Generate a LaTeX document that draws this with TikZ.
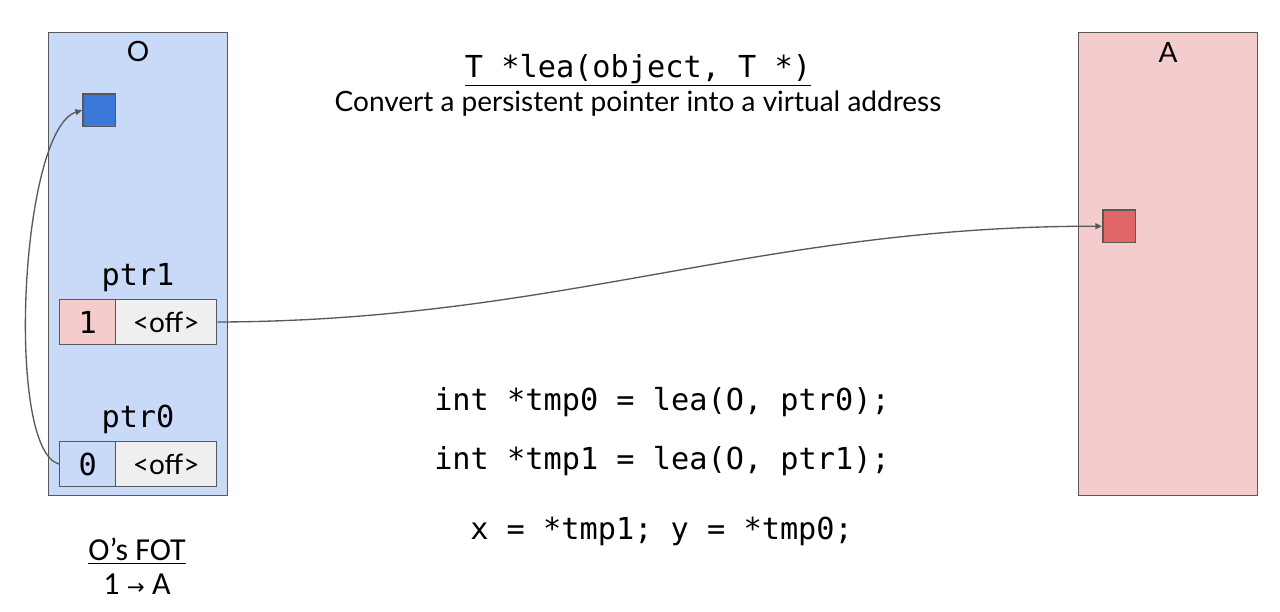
\documentclass[tikz,border=0pt]{standalone}
\usepackage{fontspec}
\setmainfont{Lato}
\setmonofont{DejaVu Sans Mono}
\newfontfamily\fotfont{Carlito}
\newfontfamily\symfont{DejaVu Sans}
\usetikzlibrary{arrows.meta}
\definecolor{edgegray}{HTML}{595959}
\definecolor{oblue}{HTML}{C9DAF8}
\definecolor{apink}{HTML}{F4CCCC}
\definecolor{sqblue}{HTML}{3C78D8}
\definecolor{sqred}{HTML}{E06666}
\definecolor{cellgray}{HTML}{EFEFEF}
\tikzset{
  region/.style={draw=edgegray, line width=1pt, anchor=north west, inner sep=0pt, minimum width=134.25pt, minimum height=347.25pt},
  cell/.style={draw=edgegray, line width=1pt, anchor=north west, inner sep=0pt, minimum height=33.5pt},
  sq/.style={draw=edgegray, line width=1.3pt, anchor=north west, inner sep=0pt, minimum size=24.5pt},
  monolbl/.style={font=\ttfamily\fontsize{22.7}{26}\selectfont, inner sep=0pt},
  sanslbl/.style={font=\fontsize{21}{25}\selectfont, inner sep=0pt},
  link/.style={draw=edgegray, line width=1pt, -{Triangle[length=5pt,width=4.5pt]}},
}
\begin{document}
\begin{tikzpicture}[x=0.75pt,y=-0.75pt]
\useasboundingbox (0,0) rectangle (1280,611);
% regions
\node[region, fill=oblue] (O) at (48,32) {};
\node[region, fill=apink] (A) at (1078,32) {};
\node[sanslbl] (Olbl) at (138,51) {O};
\node[sanslbl] (Albl) at (1168,52) {A};
% squares
\node[sq, fill=sqblue] (bsq) at (82,93) {};
\node[sq, fill=sqred] (rsq) at (1102,209) {};
% ptr1
\node[monolbl] (p1lbl) at (138,278) {ptr1};
\node[cell, fill=apink, minimum width=42pt] (p1seg) at (59,299) {};
\node[cell, fill=cellgray, minimum width=75.75pt] (p1off) at (115,299) {};
\node[monolbl] at (p1seg.center) {1};
\node[sanslbl] at (p1off.center) {<off>};
% ptr0
\node[monolbl] (p0lbl) at (138,419) {ptr0};
\node[cell, fill=oblue, minimum width=42pt] (p0seg) at (59,441) {};
\node[cell, fill=cellgray, minimum width=75.75pt] (p0off) at (115,441) {};
\node[monolbl] at (p0seg.center) {0};
\node[sanslbl] at (p0off.center) {<off>};
% connectors
\draw[link] (p1off.east) .. controls (560,321) and (760,226) .. (rsq.west);
\draw[link] (p0seg.west) .. controls (5,450) and (20,130) .. (bsq.west);
% title
\node[monolbl] (title) at (638,70) {\underline{T *lea(object, T *)}};
\node[sanslbl] (sub) at (638,104) {Convert a persistent pointer into a virtual address};
% code
\node[monolbl, anchor=west] (c0) at (434,402) {int *tmp0 = lea(O, ptr0);};
\node[monolbl, anchor=west] (c1) at (434,461) {int *tmp1 = lea(O, ptr1);};
\node[monolbl, anchor=west] (c2) at (470,531) {x = *tmp1; y = *tmp0;};
% FOT
\node[font=\fotfont\fontsize{24}{28}\selectfont, inner sep=0pt] (fot) at (137,551) {\underline{O’s FOT}};
\node[font=\fotfont\fontsize{24}{28}\selectfont, inner sep=0pt] (fotmap) at (137,584) {1 {\symfont\fontsize{16}{20}\selectfont →} A};
\end{tikzpicture}
\end{document}
